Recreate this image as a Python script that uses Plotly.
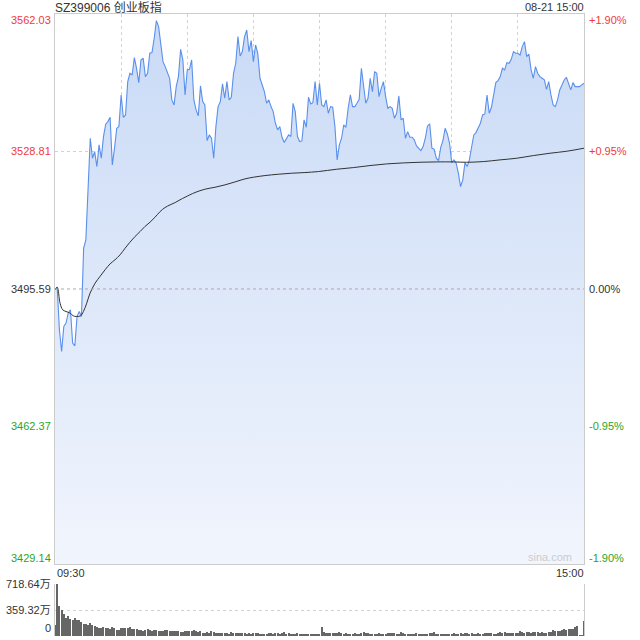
import plotly.graph_objects as go

# 创业板指 intraday, 08-21, one point per minute (09:30-11:30, 13:01-15:00)
prev_close = 3495.59
price_max = 3562.03
price_min = 3429.14
vol_max = 718.64

price = [
    3495.40, 3496.02, 3485.72, 3480.49, 3486.53, 3487.33, 3489.75, 3490.55, 3482.50, 3481.86,
    3488.94, 3490.15, 3488.94, 3505.44, 3507.46, 3519.53, 3532.01, 3527.18, 3528.79, 3525.17,
    3530.40, 3527.18, 3532.41, 3535.39, 3536.03, 3537.08, 3525.57, 3529.59, 3534.42, 3534.83,
    3542.47, 3537.08, 3537.64, 3545.69, 3547.71, 3547.30, 3551.49, 3548.91, 3545.45, 3550.93,
    3551.33, 3546.90, 3547.71, 3552.54, 3552.70, 3556.16, 3560.42, 3558.98, 3554.55, 3550.52,
    3549.32, 3548.11, 3546.50, 3541.27, 3540.06, 3544.49, 3546.90, 3553.50, 3550.93, 3542.47,
    3548.51, 3548.67, 3550.93, 3541.27, 3538.85, 3537.40, 3544.65, 3540.86, 3540.06, 3531.44,
    3532.81, 3532.01, 3527.18, 3534.83, 3539.66, 3540.86, 3545.13, 3541.67, 3545.69, 3541.27,
    3541.91, 3547.71, 3550.12, 3556.56, 3551.89, 3552.94, 3556.56, 3558.17, 3552.94, 3555.59,
    3550.52, 3554.55, 3552.54, 3546.50, 3544.65, 3543.28, 3540.46, 3541.27, 3539.66, 3538.45,
    3535.63, 3534.02, 3534.83, 3532.25, 3530.96, 3532.01, 3532.81, 3532.41, 3540.46, 3538.45,
    3532.41, 3531.20, 3531.36, 3536.44, 3534.66, 3541.91, 3540.30, 3540.62, 3545.69, 3540.06,
    3545.29, 3540.06, 3539.66, 3541.27, 3538.05, 3539.66, 3539.49, 3534.83, 3526.78, 3530.40,
    3532.01, 3535.23, 3534.66, 3539.25, 3542.47, 3539.66, 3539.66, 3540.46, 3541.43, 3548.91,
    3545.29, 3540.46, 3541.67, 3546.50, 3543.28, 3548.11, 3547.71, 3542.07, 3544.08, 3545.69,
    3542.07, 3539.25, 3539.66, 3539.25, 3536.84, 3538.05, 3542.23, 3536.44, 3536.84, 3532.01,
    3533.62, 3532.25, 3532.25, 3531.61, 3530.16, 3529.59, 3529.03, 3529.99, 3532.01, 3534.99,
    3535.47, 3529.59, 3529.35, 3527.18, 3526.61, 3529.83, 3531.44, 3534.42, 3533.05, 3530.80,
    3526.13, 3526.78, 3525.97, 3523.56, 3520.34, 3521.95, 3526.13, 3525.17, 3526.78, 3529.83,
    3532.81, 3533.38, 3534.42, 3535.63, 3537.64, 3537.88, 3542.47, 3538.05, 3539.49, 3542.47,
    3545.45, 3545.93, 3546.90, 3548.91, 3548.51, 3550.28, 3550.12, 3551.09, 3552.94, 3552.54,
    3552.54, 3552.13, 3554.15, 3555.35, 3551.73, 3552.37, 3548.51, 3546.50, 3549.32, 3547.71,
    3546.90, 3546.50, 3546.10, 3543.84, 3545.69, 3542.47, 3540.06, 3539.66, 3541.27, 3543.68,
    3544.89, 3546.10, 3546.74, 3545.13, 3543.68, 3545.45, 3544.49, 3544.49, 3544.49, 3544.89,
    3545.29,
]

# average price line, read at a coarser step
avg_minute = [0, 1, 2.3, 3.5, 5, 6.8, 8.3, 9.8, 11.6, 12.9, 14.4, 15.9, 18.2, 20.4, 22.7, 25,
              27.2, 29.5, 31.8, 34, 36.3, 38.6, 40.8, 43.1, 45.4, 47.7, 49.9, 52.2, 54.5, 56.7,
              59, 63.5, 68, 72.6, 77.1, 81.7, 86.2, 90, 95.3, 101.3, 107.4, 113.4, 119.5, 127.8,
              135.4, 142.9, 150.5, 158, 165.6, 173.2, 180.8, 186.8, 194.3, 201.9, 209.5, 217,
              224.6, 232.2, 240]
avg_price = [3495.40, 3496.02, 3492.16, 3490.55, 3490.15, 3489.75, 3489.10, 3488.94, 3489.10,
             3490.15, 3492.16, 3494.58, 3496.99, 3498.60, 3500.21, 3501.66, 3502.63, 3503.83,
             3505.44, 3506.89, 3508.26, 3509.47, 3510.68, 3511.72, 3512.93, 3514.30, 3515.26,
             3515.91, 3516.47, 3517.12, 3517.76, 3518.89, 3519.69, 3520.17, 3520.74, 3521.46,
             3522.19, 3522.59, 3522.99, 3523.31, 3523.56, 3523.72, 3523.96, 3524.52, 3524.92,
             3525.41, 3525.81, 3526.05, 3526.21, 3526.29, 3526.29, 3526.20, 3526.37, 3526.78,
             3527.18, 3527.82, 3528.39, 3528.87, 3529.60]

# volume, 万
volume = [
    153, 718.64, 412, 354, 311, 254, 283, 240, 225, 254, 225, 225, 196, 172, 172, 153, 182, 153, 139, 129,
    110, 110, 125, 115, 110, 96, 125, 110, 86, 86, 105, 115, 115, 115, 129, 96, 96, 96, 86, 86,
    72, 81, 96, 86, 72, 86, 86, 72, 72, 72, 86, 86, 72, 72, 72, 72, 72, 62, 62, 72,
    72, 72, 72, 86, 72, 57, 72, 43, 43, 57, 43, 72, 57, 43, 43, 43, 43, 43, 43, 34,
    57, 48, 38, 38, 38, 38, 38, 24, 38, 24, 38, 38, 38, 24, 24, 24, 14, 38, 38, 24,
    38, 38, 24, 38, 57, 24, 38, 24, 24, 24, 38, 14, 24, 24, 24, 24, 24, 24, 24, 24,
    14, 129, 57, 38, 38, 38, 38, 38, 38, 57, 38, 14, 38, 24, 24, 24, 38, 24, 24, 38,
    57, 38, 38, 24, 24, 24, 24, 38, 24, 24, 24, 38, 38, 38, 38, 24, 24, 57, 38, 24,
    24, 24, 24, 24, 38, 24, 24, 24, 24, 24, 38, 38, 57, 24, 24, 24, 24, 24, 24, 24,
    24, 38, 24, 24, 38, 24, 38, 38, 24, 38, 24, 14, 38, 24, 24, 38, 38, 38, 38, 24,
    24, 38, 57, 38, 57, 38, 38, 38, 38, 38, 38, 72, 57, 38, 57, 57, 38, 57, 57, 57,
    38, 57, 48, 38, 57, 57, 86, 72, 72, 72, 86, 96, 86, 96, 96, 96, 129, 144, 8, 8,
    201,
]

minutes = list(range(len(price)))
half_hours = [30, 60, 90, 120, 150, 180, 210]

price_labels = [price_max, 3528.81, prev_close, 3462.37, price_min]
pct_labels = ["+1.90%", "+0.95%", "0.00%", "-0.95%", "-1.90%"]
label_colors = ["#f03b3b", "#f03b3b", "#333333", "#2aa52a", "#2aa52a"]
vol_labels = ["718.64万", "359.32万", "0"]
vol_label_vals = [vol_max, 359.32, 0]

FONT = "Liberation Sans, Arial, Noto Sans CJK SC"
price_bottom = 0.1158
vol_top = 0.0836

fig = go.Figure()

fig.add_trace(go.Scatter(
    x=minutes, y=price,
    mode="lines",
    line=dict(color="#5a90ec", width=1.1),
    fill="tozeroy",
    fillgradient=dict(type="vertical", start=price_min, stop=price_max,
                      colorscale=[[0, "#f1f5fd"], [1, "#c9daf6"]]),
    hoverinfo="skip",
))
fig.add_trace(go.Scatter(
    x=avg_minute, y=avg_price,
    mode="lines",
    line=dict(color="#333333", width=1, shape="spline"),
    hoverinfo="skip",
))
fig.add_trace(go.Bar(
    x=minutes, y=volume,
    xaxis="x2", yaxis="y2",
    marker=dict(color="#666666", line_width=0),
    width=0.5,
    hoverinfo="skip",
))

fig.add_shape(type="line", xref="x", yref="y", x0=0, x1=240, y0=prev_close, y1=prev_close,
              line=dict(color="#aaaaaa", width=1, dash="3px,3px"))

annotations = []
for i, v in enumerate(price_labels):
    shift = -6 if i == 0 else (6 if i == len(price_labels) - 1 else 0)
    annotations.append(dict(xref="paper", yref="y", x=0, y=v, text=f"{v:.2f}",
                            xanchor="right", yanchor="middle", xshift=-2, yshift=shift,
                            showarrow=False, font=dict(color=label_colors[i], size=11)))
    annotations.append(dict(xref="paper", yref="y", x=1, y=v, text=pct_labels[i],
                            xanchor="left", yanchor="middle", xshift=3, yshift=shift,
                            showarrow=False, font=dict(color=label_colors[i], size=11)))
for t, v in zip(vol_labels, vol_label_vals):
    annotations.append(dict(xref="paper", yref="y2", x=0, y=v, text=t,
                            xanchor="right", yanchor="middle", xshift=-2,
                            yshift=8 if v == 0 else 0,
                            showarrow=False, font=dict(color="#333333", size=11)))

annotations += [
    dict(xref="paper", yref="paper", x=0, y=1, text="SZ399006 创业板指", xanchor="left",
         yanchor="middle", xshift=-2, yshift=7, showarrow=False,
         font=dict(color="#333333", size=12)),
    dict(xref="paper", yref="paper", x=1, y=1, text="08-21 15:00", xanchor="right",
         yanchor="middle", xshift=2, yshift=7, showarrow=False,
         font=dict(color="#333333", size=11)),
    dict(xref="paper", yref="paper", x=0, y=price_bottom, text="09:30", xanchor="left",
         yanchor="middle", yshift=-9, showarrow=False, font=dict(color="#333333", size=11)),
    dict(xref="paper", yref="paper", x=1, y=price_bottom, text="15:00", xanchor="right",
         yanchor="middle", xshift=2, yshift=-9, showarrow=False,
         font=dict(color="#333333", size=11)),
    dict(xref="paper", yref="paper", x=1, y=price_bottom, text="sina.com", xanchor="right",
         yanchor="middle", xshift=-10, yshift=7, showarrow=False,
         font=dict(color="#cccccc", size=11)),
]

grid = dict(showgrid=True, gridcolor="#d2d2d2", griddash="dot", gridwidth=1,
            zeroline=False, showticklabels=False, ticks="")

fig.update_layout(
    width=640, height=640,
    margin=dict(l=55, r=56, t=14, b=4, autoexpand=False),
    paper_bgcolor="white", plot_bgcolor="white",
    showlegend=False,
    font=dict(family=FONT, size=11, color="#333333"),
    xaxis=dict(domain=[0, 1], range=[0, 240], anchor="y", tickvals=half_hours,
               showline=True, mirror=True, linecolor="#cccccc", **grid),
    yaxis=dict(domain=[price_bottom, 1], range=[price_min, price_max], anchor="x",
               tickvals=[3462.37, 3528.81],
               showline=True, mirror=True, linecolor="#cccccc", **grid),
    xaxis2=dict(domain=[0, 1], range=[0, 240], anchor="y2", showgrid=False,
                zeroline=False, showticklabels=False, ticks="", showline=False),
    yaxis2=dict(domain=[0, vol_top], range=[0, vol_max], anchor="x2",
                tickvals=[359.32, vol_max],
                showline=True, mirror=True, linecolor="#cccccc", **grid),
    annotations=annotations,
    bargap=0,
)

# the page's default 8px body margin would push the chart off the 640px window
fig.write_html("out.html", config={"displayModeBar": False},
               post_script="document.body.style.margin='0';")
